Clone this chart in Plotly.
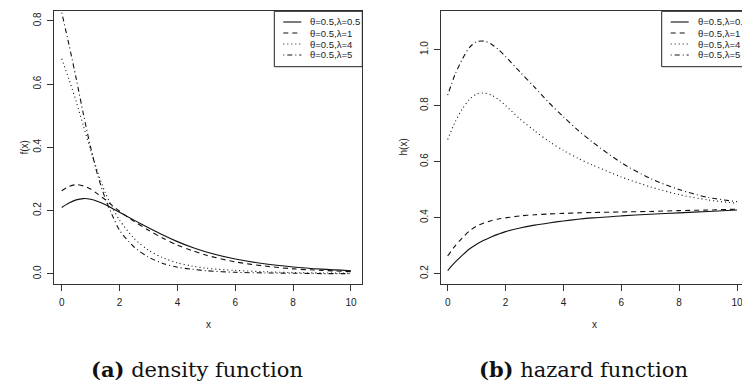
import plotly.graph_objects as go

W, H = 742, 384

x_vals = [0, 0.25, 0.5, 0.75, 1, 1.25, 1.5, 1.75, 2, 2.5, 3, 3.5, 4, 4.5, 5, 6, 7, 8, 9, 10]

legend_labels = ["θ=0.5,λ=0.5", "θ=0.5,λ=1", "θ=0.5,λ=4", "θ=0.5,λ=5"]

# density f(x)
f_l05 = [0.210, 0.224, 0.234, 0.238, 0.236, 0.229, 0.219, 0.207, 0.195, 0.170, 0.146, 0.123, 0.102, 0.084, 0.069, 0.047, 0.032, 0.022, 0.015, 0.010]
f_l1 = [0.263, 0.276, 0.282, 0.278, 0.268, 0.252, 0.235, 0.216, 0.198, 0.166, 0.138, 0.113, 0.091, 0.074, 0.059, 0.038, 0.025, 0.016, 0.011, 0.007]
f_l4 = [0.680, 0.615, 0.545, 0.468, 0.392, 0.320, 0.258, 0.210, 0.170, 0.112, 0.075, 0.051, 0.035, 0.025, 0.018, 0.011, 0.007, 0.004, 0.003, 0.002]
f_l5 = [0.826, 0.725, 0.618, 0.505, 0.400, 0.310, 0.240, 0.185, 0.138, 0.085, 0.053, 0.033, 0.021, 0.015, 0.010, 0.005, 0.003, 0.002, 0.001, 0.001]

# hazard h(x)
h_l05 = [0.211, 0.240, 0.265, 0.288, 0.305, 0.319, 0.331, 0.341, 0.350, 0.363, 0.373, 0.381, 0.388, 0.394, 0.399, 0.406, 0.412, 0.417, 0.422, 0.427]
h_l1 = [0.263, 0.298, 0.327, 0.352, 0.370, 0.381, 0.389, 0.395, 0.399, 0.406, 0.410, 0.413, 0.415, 0.417, 0.418, 0.420, 0.422, 0.425, 0.427, 0.430]
h_l4 = [0.679, 0.740, 0.787, 0.822, 0.841, 0.845, 0.838, 0.822, 0.800, 0.752, 0.710, 0.672, 0.640, 0.612, 0.588, 0.545, 0.510, 0.482, 0.463, 0.451]
h_l5 = [0.837, 0.910, 0.965, 1.007, 1.028, 1.030, 1.020, 1.000, 0.975, 0.920, 0.866, 0.810, 0.760, 0.712, 0.670, 0.596, 0.540, 0.500, 0.472, 0.457]

x_ticks = [0, 2, 4, 6, 8, 10]
f_ticks = [0.0, 0.2, 0.4, 0.6, 0.8]
h_ticks = [0.2, 0.4, 0.6, 0.8, 1.0]

dashes = ["solid", "5px,4px", "1px,3px", "1px,3px,5px,3px"]
LINE_C = "#111111"
TXT_C = "#222222"


def px(xp):
    return xp / W


def py(yp):
    return 1 - yp / H


fig = go.Figure()

for ys, d, name in zip([f_l05, f_l1, f_l4, f_l5], dashes, legend_labels):
    fig.add_trace(go.Scatter(x=x_vals, y=ys, mode="lines", name=name,
                             line=dict(color=LINE_C, width=1.1, dash=d, shape="spline", smoothing=0.8),
                             xaxis="x", yaxis="y", showlegend=False))
for ys, d, name in zip([h_l05, h_l1, h_l4, h_l5], dashes, legend_labels):
    fig.add_trace(go.Scatter(x=x_vals, y=ys, mode="lines", name=name,
                             line=dict(color=LINE_C, width=1.1, dash=d, shape="spline", smoothing=0.8),
                             xaxis="x2", yaxis="y2", showlegend=False))

axfont = dict(family="Liberation Sans, Arial, sans-serif", size=10, color=TXT_C)
common = dict(showgrid=False, zeroline=False, showline=True, linecolor="#333333", linewidth=1,
              ticks="outside", ticklen=6, tickwidth=1, tickcolor="#333333", tickfont=axfont,
              ticklabeloverflow="allow")

L_x0, L_x1 = 54.3, 362.3
R_x0 = 440.7
top, bot = 11.3, 283.7

fig.update_layout(
    width=W, height=H, margin=dict(l=0, r=0, t=0, b=0),
    paper_bgcolor="white", plot_bgcolor="white", showlegend=False,
    xaxis=dict(domain=[px(L_x0), px(L_x1)], range=[-0.256, 10.391], tickvals=x_ticks,
               mirror=True, anchor="y", ticklabelstandoff=3, **common),
    yaxis=dict(domain=[py(bot), py(top)], range=[-0.031, 0.830], tickvals=f_ticks, tickformat=".1f",
               tickangle=-90, mirror=True, anchor="x", ticklabelstandoff=2, **common),
    xaxis2=dict(domain=[px(R_x0), 1.0], range=[-0.242, 10.173], tickvals=x_ticks,
                mirror=True, anchor="y2", ticklabelstandoff=3, **common),
    yaxis2=dict(domain=[py(bot), py(top)], range=[0.164, 1.1365], tickvals=h_ticks, tickformat=".1f",
                tickangle=-90, mirror=False, anchor="x2", ticklabelstandoff=2, **common),
)

# axis titles
ann = []
ann.append(dict(text="x", x=px((L_x0 + L_x1) / 2), y=py(324), xref="paper", yref="paper",
                showarrow=False, font=axfont, xanchor="center", yanchor="middle"))
ann.append(dict(text="x", x=px((R_x0 + 748) / 2), y=py(324), xref="paper", yref="paper",
                showarrow=False, font=axfont, xanchor="center", yanchor="middle"))
ann.append(dict(text="f(x)", x=px(24), y=py((top + bot) / 2), xref="paper", yref="paper",
                showarrow=False, font=axfont, textangle=-90, xanchor="center", yanchor="middle"))
ann.append(dict(text="h(x)", x=px(403), y=py((top + bot) / 2), xref="paper", yref="paper",
                showarrow=False, font=axfont, textangle=-90, xanchor="center", yanchor="middle"))

# captions
capfont = dict(family="DejaVu Serif, serif", size=21, color="#111111")
ann.append(dict(text="<b>(a)</b> density function", x=px(197), y=py(369), xref="paper", yref="paper",
                showarrow=False, font=capfont, xanchor="center", yanchor="middle"))
ann.append(dict(text="<b>(b)</b> hazard function", x=px(583), y=py(369), xref="paper", yref="paper",
                showarrow=False, font=capfont, xanchor="center", yanchor="middle"))

# manual R-style legends
shapes = []
legfont = dict(family="Liberation Sans, Arial, sans-serif", size=9.5, color=TXT_C)
row_y = [22, 33, 44, 55]
for box_left, box_right in [(274.3, L_x1), (661.7, 748)]:
    shapes.append(dict(type="rect", xref="paper", yref="paper",
                       x0=px(box_left), x1=px(box_right), y0=py(66.7), y1=py(top),
                       line=dict(color="#222222", width=1), fillcolor="white", layer="above"))
    for ry, d, lab in zip(row_y, dashes, legend_labels):
        shapes.append(dict(type="line", xref="paper", yref="paper",
                           x0=px(box_left + 9), x1=px(box_left + 27), y0=py(ry), y1=py(ry),
                           line=dict(color=LINE_C, width=1.1, dash=d), layer="above"))
        ann.append(dict(text=lab, x=px(box_left + 34), y=py(ry), xref="paper", yref="paper",
                        showarrow=False, font=legfont, xanchor="left", yanchor="middle"))

fig.update_layout(annotations=ann, shapes=shapes)

fig.write_html("out.html")
